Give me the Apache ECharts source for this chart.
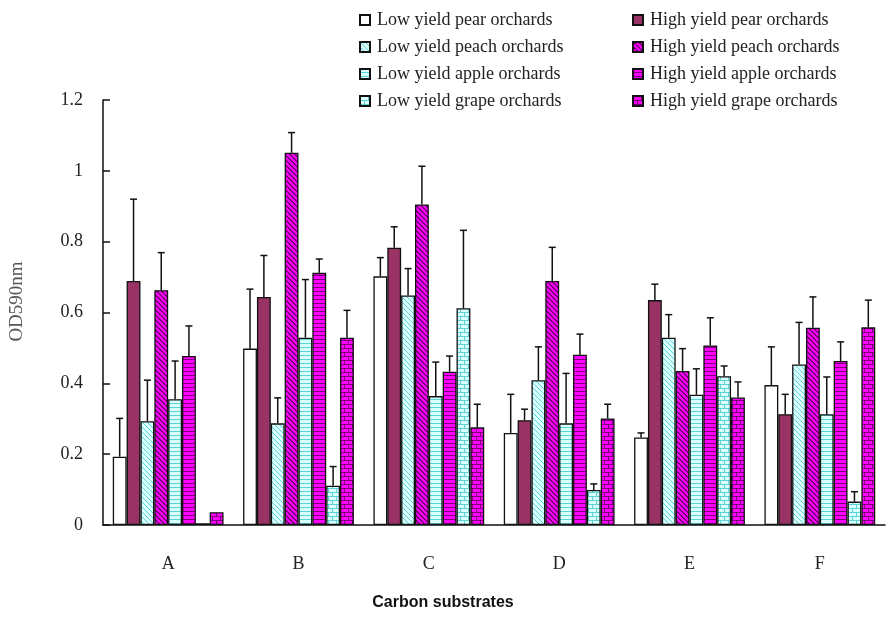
<!DOCTYPE html>
<html>
<head>
<meta charset="utf-8">
<script src="https://cdn.jsdelivr.net/npm/echarts@6/dist/echarts.min.js"></script>
<style>html,body{margin:0;padding:0;background:#fff;}#chart{width:886px;height:621px;}</style>
</head>
<body>
<div id="chart"></div>
<script>
// ---- data ----
const categories = ['A', 'B', 'C', 'D', 'E', 'F'];
const yTicks = [0, 0.2, 0.4, 0.6, 0.8, 1, 1.2];
const seriesNames = [
  'Low yield pear orchards', 'High yield pear orchards',
  'Low yield peach orchards', 'High yield peach orchards',
  'Low yield apple orchards', 'High yield apple orchards',
  'Low yield grape orchards', 'High yield grape orchards'
];
const lowPear    = [0.193, 0.498, 0.702, 0.260, 0.247, 0.395];
const lowPearSD  = [0.108, 0.168, 0.053, 0.109, 0.013, 0.108];
const highPear   = [0.689, 0.644, 0.783, 0.296, 0.635, 0.313];
const highPearSD = [0.231, 0.117, 0.059, 0.031, 0.045, 0.056];
const lowPeach   = [0.293, 0.287, 0.648, 0.409, 0.529, 0.453];
const lowPeachSD = [0.116, 0.072, 0.076, 0.094, 0.065, 0.119];
const highPeach  = [0.663, 1.051, 0.905, 0.689, 0.435, 0.557];
const highPeachSD= [0.106, 0.057, 0.108, 0.095, 0.063, 0.087];
const lowApple   = [0.355, 0.529, 0.364, 0.287, 0.368, 0.313];
const lowAppleSD = [0.108, 0.164, 0.096, 0.141, 0.073, 0.105];
const highApple  = [0.477, 0.712, 0.433, 0.481, 0.507, 0.463];
const highAppleSD= [0.085, 0.039, 0.044, 0.058, 0.078, 0.054];
const lowGrape   = [0.005, 0.111, 0.612, 0.099, 0.420, 0.066];
const lowGrapeSD = [0.000, 0.054, 0.220, 0.017, 0.029, 0.028];
const highGrape  = [0.036, 0.529, 0.276, 0.301, 0.360, 0.558];
const highGrapeSD= [0.000, 0.077, 0.065, 0.040, 0.044, 0.077];

const means = [lowPear, highPear, lowPeach, highPeach, lowApple, highApple, lowGrape, highGrape];
const sds = [lowPearSD, highPearSD, lowPeachSD, highPeachSD, lowAppleSD, highAppleSD, lowGrapeSD, highGrapeSD];

// ---- patterns (style only) ----
const LC_BG = '#D9FFFF', LC_FG = '#5ED3D3', MG_BG = '#FF00FF', MG_FG = '#7A007A';
function makeTile(w, h, bg, fg, drawFn) {
  const c = document.createElement('canvas');
  c.width = w; c.height = h;
  const ctx = c.getContext('2d');
  ctx.fillStyle = bg; ctx.fillRect(0, 0, w, h);
  ctx.fillStyle = fg;
  drawFn(ctx, w, h);
  return { image: c, repeat: 'repeat' };
}
function diag(bg, fg, thick) {
  return makeTile(5, 5, bg, fg, (ctx, w, h) => {
    for (let x = 0; x < w; x++) for (let y = 0; y < h; y++) {
      if (((x - y) % w + w) % w < thick) ctx.fillRect(x, y, 1, 1);
    }
  });
}
function horiz(bg, fg) {
  return makeTile(4, 4, bg, fg, (ctx, w, h) => { ctx.fillRect(0, 3, w, 1); });
}
function brick(bg, fg) {
  return makeTile(8, 8, bg, fg, (ctx, w, h) => {
    ctx.fillRect(0, 0, w, 1); ctx.fillRect(0, 4, w, 1);
    ctx.fillRect(0, 0, 1, 4); ctx.fillRect(4, 4, 1, 4);
  });
}
const fills = [
  '#FFFFFF', '#993366',
  diag(LC_BG, LC_FG, 1), diag(MG_BG, MG_FG, 2),
  horiz(LC_BG, LC_FG), horiz(MG_BG, MG_FG),
  brick(LC_BG, LC_FG), brick(MG_BG, MG_FG)
];

const serif = '"Liberation Serif", "Times New Roman", serif';

const barSeries = seriesNames.map((name, i) => ({
  name: name,
  type: 'bar',
  data: means[i],
  barGap: '0%',
  barCategoryGap: '15%',
  itemStyle: { color: fills[i], borderColor: '#111', borderWidth: 1.3 },
  emphasis: { disabled: true }
}));

const errData = [];
means.forEach((arr, si) => arr.forEach((m, ci) => errData.push([ci, si, m, sds[si][ci]])));

const errSeries = {
  type: 'custom',
  name: 'err',
  data: errData,
  encode: { x: 0, y: 2 },
  z: 10,
  renderItem: function (params, api) {
    const cat = api.value(0), si = api.value(1), m = api.value(2), sd = api.value(3);
    if (!(sd > 0)) return;
    const band = api.size([1, 0])[0];
    const bw = band * 0.85 / 8;
    const base = api.coord([cat, m]);
    const top = api.coord([cat, m + sd]);
    const x = base[0] + (si - 3.5) * bw;
    const st = { stroke: '#111', lineWidth: 1.5 };
    return {
      type: 'group',
      children: [
        { type: 'line', shape: { x1: x, y1: base[1], x2: x, y2: top[1] }, style: st },
        { type: 'line', shape: { x1: x - 3.5, y1: top[1], x2: x + 3.5, y2: top[1] }, style: st }
      ]
    };
  }
};

const legendCommon = {
  orient: 'vertical',
  itemWidth: 10,
  itemHeight: 10,
  itemGap: 9,
  icon: 'rect',
  selectedMode: false,
  textStyle: { fontFamily: serif, fontSize: 18, color: '#222', padding: [0, 0, 0, 2] }
};

const chart = echarts.init(document.getElementById('chart'), null, { renderer: 'canvas' });
chart.setOption({
  animation: false,
  backgroundColor: '#fff',
  grid: { left: 102, right: 1, top: 100, bottom: 96, containLabel: false },
  legend: [
    Object.assign({ left: 354, top: 6, data: seriesNames.filter((n, i) => i % 2 === 0) }, legendCommon),
    Object.assign({ left: 627, top: 6, data: seriesNames.filter((n, i) => i % 2 === 1) }, legendCommon)
  ],
  xAxis: {
    type: 'category',
    data: categories,
    axisLine: { lineStyle: { color: '#111', width: 1.5 } },
    axisTick: { inside: true, length: 6, lineStyle: { color: '#111', width: 1.5 } },
    axisLabel: { fontFamily: serif, fontSize: 18, color: '#222', margin: 30 }
  },
  yAxis: {
    type: 'value',
    min: yTicks[0],
    max: yTicks[yTicks.length - 1],
    interval: 0.2,
    name: 'OD590nm',
    nameLocation: 'middle',
    nameGap: 76,
    nameTextStyle: { fontFamily: serif, fontSize: 19, color: '#555', padding: [0, 0, 0, 22] },
    splitLine: { show: false },
    axisLine: { show: true, lineStyle: { color: '#111', width: 1.5 } },
    axisTick: { show: true, inside: true, length: 7, lineStyle: { color: '#111', width: 1.5 } },
    axisLabel: { fontFamily: serif, fontSize: 18, color: '#222', margin: 20 }
  },
  graphic: [{
    type: 'text',
    left: 'center',
    top: 595,
    style: { text: 'Carbon substrates', fontFamily: '"Liberation Sans", Arial, sans-serif', fontWeight: 'bold', fontSize: 16, fill: '#111' }
  }],
  series: barSeries.concat([errSeries])
});
</script>
</body>
</html>
